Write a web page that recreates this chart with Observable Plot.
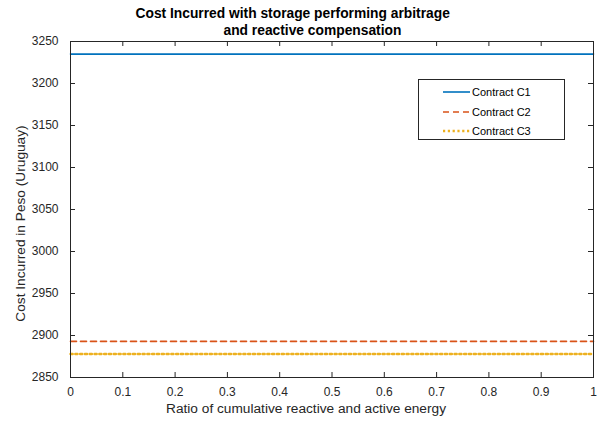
<!DOCTYPE html>
<html>
<head>
<meta charset="utf-8">
<script src="https://cdn.jsdelivr.net/npm/d3@7"></script>
<script src="https://cdn.jsdelivr.net/npm/@observablehq/plot@0.6"></script>
<style>
  html, body { margin: 0; padding: 0; background: #fff; }
  #wrap { position: relative; width: 597px; height: 421px; font-family: "Liberation Sans", Arial, sans-serif; }
  #legend { position: absolute; left: 418px; top: 79px; width: 145px; height: 59px; border: 1px solid #262626; background: #fff; box-sizing: content-box; }
  #legend .row { position: absolute; left: 0; height: 14px; display: flex; align-items: center; font-size: 11px; color: #000; }
  #legend svg { display: block; margin-left: 24px; margin-right: 2px; }
</style>
</head>
<body>
<div id="wrap"></div>
<script>
// ---- data ----
const ratios = [0, 0.1, 0.2, 0.3, 0.4, 0.5, 0.6, 0.7, 0.8, 0.9, 1];
const costC1 = [3235, 3235, 3235, 3235, 3235, 3235, 3235, 3235, 3235, 3235, 3235];
const costC2 = [2893, 2893, 2893, 2893, 2893, 2893, 2893, 2893, 2893, 2893, 2893];
const costC3 = [2878, 2878, 2878, 2878, 2878, 2878, 2878, 2878, 2878, 2878, 2878];
const seriesNames = ["Contract C1", "Contract C2", "Contract C3"];
const seriesColors = ["#0072BD", "#D95319", "#EDB120"];
const xTicks = [0, 0.1, 0.2, 0.3, 0.4, 0.5, 0.6, 0.7, 0.8, 0.9, 1];
const yTicks = [2850, 2900, 2950, 3000, 3050, 3100, 3150, 3200, 3250];
const titleLines = ["Cost Incurred with storage performing arbitrage", "and reactive compensation"];
const xLabel = "Ratio of cumulative reactive and active energy";
const yLabel = "Cost Incurred in Peso (Uruguay)";

const W = 597, H = 421;
const mL = 70, mR = 4, mT = 41, mB = 44;
const pw = W - mL - mR, ph = H - mT - mB;

const toRows = (vals) => ratios.map((r, i) => ({x: r, y: vals[i]}));
const styles = [
  {strokeWidth: 1.6},
  {strokeWidth: 1.6, strokeDasharray: "6,4"},
  {strokeWidth: 2.4, strokeDasharray: "2.2,2.6"}
];
const allSeries = [costC1, costC2, costC3];

const axisColor = "#262626";
const chart = Plot.plot({
  width: W, height: H,
  marginLeft: mL, marginRight: mR, marginTop: mT, marginBottom: mB,
  style: {fontFamily: '"Liberation Sans", Arial, sans-serif', fontSize: "12px", color: axisColor, background: "#fff"},
  x: {domain: [0, 1]},
  y: {domain: [2850, 3250]},
  marks: [
    Plot.axisX({ticks: xTicks, tickSize: 0, tickPadding: 10, tickFormat: d => String(d), label: null, fontSize: 12}),
    Plot.axisY({ticks: yTicks, tickSize: 0, tickPadding: 12, tickFormat: d => String(d), label: null, fontSize: 12}),
    // inward ticks (bottom, top, left, right)
    Plot.tickX(xTicks, {x: d => d, insetTop: ph - 5, stroke: axisColor}),
    Plot.tickX(xTicks, {x: d => d, insetBottom: ph - 5, stroke: axisColor}),
    Plot.tickY(yTicks, {y: d => d, insetRight: pw - 5, stroke: axisColor}),
    Plot.tickY(yTicks, {y: d => d, insetLeft: pw - 5, stroke: axisColor}),
    ...allSeries.map((vals, i) => Plot.line(toRows(vals), {x: "x", y: "y", stroke: seriesColors[i], ...styles[i]})),
    Plot.frame({stroke: axisColor, strokeWidth: 1}),
    // axis labels
    Plot.text([xLabel], {frameAnchor: "bottom", textAnchor: "middle", lineAnchor: "middle", dx: -26, dy: 31, fontSize: 13.7, fill: axisColor}),
    Plot.text([yLabel], {frameAnchor: "left", textAnchor: "middle", lineAnchor: "middle", dx: -50, dy: 14, rotate: -90, fontSize: 13.7, fill: axisColor}),
    // title
    Plot.text([titleLines[0]], {frameAnchor: "top-left", textAnchor: "start", lineAnchor: "middle", dx: 65, dy: -27.5, fontWeight: "bold", fontSize: 13.8, fill: "#000"}),
    Plot.text([titleLines[1]], {frameAnchor: "top-left", textAnchor: "start", lineAnchor: "middle", dx: 153, dy: -11, fontWeight: "bold", fontSize: 13.8, fill: "#000"})
  ]
});
const wrap = document.getElementById("wrap");
wrap.appendChild(chart);

// legend
const legend = document.createElement("div");
legend.id = "legend";
const rowTops = [5, 25, 44];
seriesNames.forEach((name, i) => {
  const row = document.createElement("div");
  row.className = "row";
  row.style.top = rowTops[i] + "px";
  const s = d3.create("svg").attr("width", 27).attr("height", 6);
  s.append("line").attr("x1", 0).attr("x2", 27).attr("y1", 3).attr("y2", 3)
    .attr("stroke", seriesColors[i]).attr("stroke-width", styles[i].strokeWidth)
    .attr("stroke-dasharray", styles[i].strokeDasharray || null);
  row.appendChild(s.node());
  const t = document.createElement("span");
  t.textContent = name;
  row.appendChild(t);
  legend.appendChild(row);
});
wrap.appendChild(legend);
</script>
</body>
</html>
